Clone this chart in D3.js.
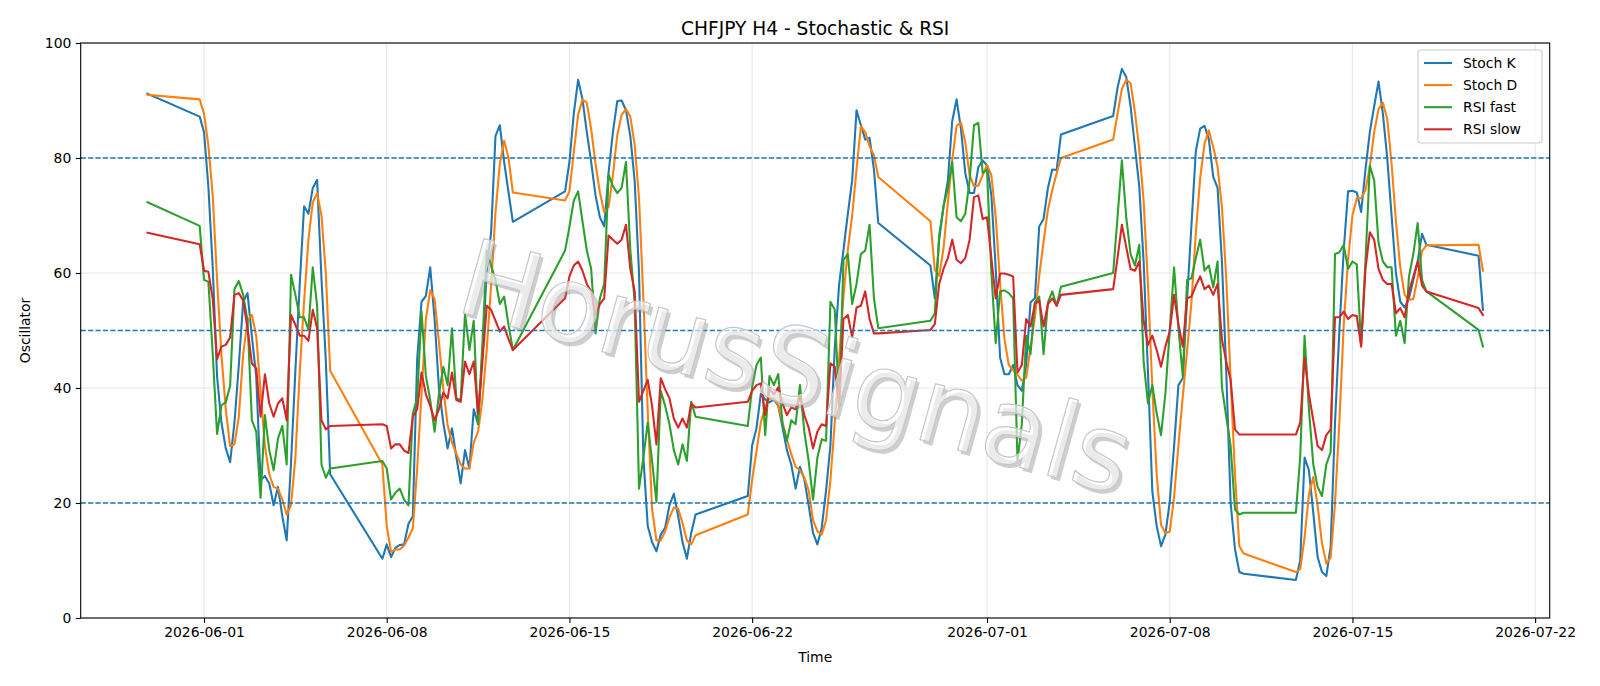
<!DOCTYPE html>
<html>
<head>
<meta charset="utf-8">
<script src="https://cdn.jsdelivr.net/npm/d3@7/dist/d3.min.js"></script>
<style>
  body { margin: 0; background: #fff; }
  text { font-family: "DejaVu Sans", sans-serif; fill: #000; }
</style>
</head>
<body>
<div id="chart"></div>
<script>
// H4 bars: [first bar open time, number of bars]
const sessions = [
  ["2026-05-29T20:00:00Z", 1],
  ["2026-05-31T20:00:00Z", 31],
  ["2026-06-07T20:00:00Z", 31],
  ["2026-06-14T20:00:00Z", 31],
  ["2026-06-21T20:00:00Z", 31],
  ["2026-06-28T20:00:00Z", 31],
  ["2026-07-05T20:00:00Z", 31],
  ["2026-07-12T20:00:00Z", 31],
  ["2026-07-19T20:00:00Z", 2],
];

const stochK = [
  91.2,
  87.2, 84.5, 75, 61, 42, 34, 29.5, 27.1, 34, 44, 55, 56.5, 49, 42, 24, 24.7, 23.4, 19.6, 22.8, 17.7, 13.5, 27, 43, 58, 71.6, 70.3, 74.8, 76.2, 59, 44.8, 25,
  10.3, 12.8, 10.6, 12.2, 12.7, 12.8, 16.4, 17.7, 45, 55, 56, 61, 52, 40, 34, 29.5, 33, 28, 23.4, 29.2, 26, 36.3, 33.7, 45.9, 60.7, 67.1, 83.8, 85.7, 79.3, 74, 68.9,
  74.2, 79.3, 87.7, 93.6, 90.2, 84.5, 79.3, 73.5, 69.7, 68.1, 77.4, 84.5, 89.9, 90, 88.3, 83.8, 76, 60, 28, 16, 13.2, 11.6, 14.5, 15.7, 19.6, 21.6, 17.7, 13.2, 10.3, 14.8, 18,
  21.2, 30, 33, 39, 38, 37.5, 38, 36.9, 33.1, 29.2, 26.7, 22.5, 26.3, 24.1, 19.6, 14.8, 12.8, 15.7, 22.2, 30, 47, 58, 64, 70.3, 76.1, 88.3, 85.7, 83.2, 83.5, 78, 68.7,
  61.3, 55.6, 65.8, 71.6, 76.1, 86.4, 90.2, 85.1, 77.4, 73.9, 73.9, 78.4, 79.6, 78.7, 73.5, 60.7, 45.3, 42.4, 42.4, 44, 40.5, 39.5, 44, 54.9, 55.6, 68.1, 69.4, 74.8, 78, 77.9, 84.1,
  87.3, 92.2, 95.5, 94.1, 89, 82, 75, 62, 42.7, 22, 16, 12.5, 14.5, 20.2, 29.9, 40.5, 41.7, 55.6, 68.4, 81.2, 85.1, 85.6, 83.2, 76.7, 74.8, 62, 42.7, 20, 12, 8, 7.7,
  6.6, 10, 27.9, 25.7, 18.3, 10.6, 8, 7.3, 12.5, 34, 50, 64, 74.2, 74.3, 74, 70.6, 78, 84.5, 89, 93.3, 87.7, 80, 70, 60, 55, 54, 55.6, 58.8, 62, 66.8, 64.9,
  63, 53.6,
];

const stochD = [
  91,
  90.2, 87.7, 82.2, 73.5, 58.8, 45.9, 36.3, 29.9, 30.2, 35, 45.9, 51.7, 52.7, 49.1, 39.5, 29.9, 25, 22.8, 22.5, 20.6, 18, 19.6, 27.9, 42.7, 55, 65.8, 72.3, 73.9, 70, 60, 43,
  26.7, 16, 11.5, 11.9, 11.9, 12.6, 14, 15.6, 26, 39, 52, 57, 55.5, 48, 40, 33.5, 30.5, 28.6, 26.7, 26, 26, 30.5, 32.4, 38, 46.8, 57.9, 70.5, 79, 83, 80, 74,
  72.6, 74.2, 81, 87.5, 90.2, 89.6, 85, 79, 74, 70.6, 71.5, 77, 84, 87.5, 88.5, 87.2, 82.3, 73, 55.6, 36, 19, 13.5, 13.5, 15, 17.5, 19.2, 19, 16.5, 13.5, 12.8, 14.4,
  18, 24, 29, 34, 36.7, 38.2, 38.2, 37, 34, 31, 28.5, 26.3, 25.7, 24.4, 22.2, 17, 15.1, 14.5, 17, 24, 34, 45, 56, 64, 70, 78, 85.5, 84.5, 82, 80.5, 76.7,
  69, 60.5, 59.5, 64.3, 72.3, 79.6, 85.6, 86.2, 82.7, 77, 75.1, 75.2, 77, 78.8, 77, 69.7, 58.3, 48.6, 44, 43.1, 42.3, 41.3, 41.8, 47, 52.3, 59.5, 65.5, 71, 74.4, 77.3, 80,
  83.2, 87.7, 92, 93.6, 93, 88, 81.5, 72.5, 58, 40, 25, 16.2, 14.8, 15, 21, 30, 38.5, 46.5, 55, 67, 76.5, 82.5, 84.8, 81.9, 78.5, 71.5, 59, 41.5, 25, 12.5, 11.2,
  8, 8.5, 14, 21.5, 24.5, 19.5, 13, 9.5, 10.5, 20, 34, 51, 62.3, 70, 73, 73, 74.4, 78.5, 84.5, 88.5, 89.6, 86.8, 79, 69, 61, 56.2, 55.3, 55.5, 59.2, 63.8, 64.8,
  64.9, 60.4,
];

const rsiFast = [
  72.3,
  68.2, 58.8, 58.5, 46, 32, 37, 37.5, 40.4, 57.2, 58.6, 56.2, 51.7, 34.4, 32.4, 20.9, 35.3, 29.2, 25.7, 31.2, 33.4, 26.7, 59.7, 56.2, 52.3, 52.3, 50.1, 61, 54.3, 26.7, 24.4, 26,
  27.3, 26, 20.6, 21.8, 22.5, 20.6, 19.6, 35.6, 38.2, 53.3, 42.1, 37.9, 32.4, 38.9, 43.7, 40.5, 50.4, 38.2, 37.9, 53, 46.6, 51.7, 33.7, 47.8, 63.9, 61.3, 58.8, 54.6, 55.9, 51, 46.6,
  63.9, 68, 72.6, 74.2, 69, 63.9, 60.7, 49.5, 55.6, 58.1, 77.1, 75.1, 73.9, 74.8, 79.3, 64, 55, 22.5, 27.9, 34, 27.3, 20.2, 39.5, 36.9, 33.7, 29.2, 26.7, 30.2, 27.3, 37.6, 35,
  33.4, 40.1, 44, 45.3, 31.8, 42.1, 40.5, 42.4, 33.7, 30.8, 34.4, 33.7, 40.5, 32.4, 27.3, 20.6, 27.9, 31.1, 30.8, 55, 53.6, 36.9, 62.3, 63.3, 54.6, 58.1, 63.3, 63.9, 68.4, 55.6, 50.4,
  51.7, 53, 66.5, 71.6, 74.8, 79.3, 69.7, 69, 70.3, 76.1, 85.7, 86.1, 77.4, 78, 60, 47.8, 56.8, 57, 56.5, 55.6, 27.3, 33.7, 49.1, 45.9, 54.9, 55.9, 45.9, 54.9, 56.8, 54.3, 57.6,
  60, 69.7, 79.6, 69.7, 63.3, 61.3, 64.9, 44.6, 37.3, 40.5, 35.6, 31.8, 39, 50, 61, 50.4, 42.1, 58.8, 59.1, 62.6, 65.8, 60.4, 61.3, 57.5, 62, 40.1, 35, 29.9, 18.9, 18, 18.3,
  18.3, 28, 49.1, 36.3, 26.7, 22.8, 21.2, 26.7, 28.9, 63.3, 63.6, 64.9, 60.7, 62, 61.5, 47.5, 62, 78.7, 76.1, 65.2, 62, 61, 61, 49.1, 51.7, 47.8, 59.4, 63.3, 68.7, 58.8, 56.8,
  50.1, 47.2,
];

const rsiSlow = [
  67,
  65, 60.4, 60.2, 55.5, 45, 47.2, 47.5, 48.8, 56.2, 56.5, 55.2, 50.4, 44.3, 43.4, 35, 42.4, 37.3, 35, 37.3, 38.2, 34.4, 52.7, 51, 49.1, 49.1, 48.2, 53.6, 50.4, 34.4, 32.8, 33.4,
  33.7, 33.4, 29.5, 30.2, 30.2, 29.1, 28.7, 35, 36.3, 42.7, 38.9, 36.9, 34.4, 36.3, 39.2, 38.2, 42.7, 37.9, 37.6, 44.6, 42.4, 44.6, 35.6, 44.6, 54.3, 53.6, 51.7, 49.8, 50.7, 48.5, 46.6,
  55.6, 59.4, 61.3, 62, 60.4, 58.1, 56.8, 52.7, 54.6, 55.6, 66.5, 65.8, 65.1, 65.8, 68.4, 60.7, 56.8, 37.6, 39.5, 41.4, 36.9, 30.2, 41.7, 39.8, 38.2, 34.7, 33.1, 34.7, 33.1, 37.3, 36.6,
  37.6, 39.5, 40.5, 40.8, 35.3, 39.8, 38.9, 40.1, 37.3, 35.3, 36.6, 36.3, 38.5, 35.3, 33.1, 29.5, 32.4, 33.7, 33.4, 44.3, 43.7, 36.9, 52, 52.7, 48.8, 54, 54.3, 56.8, 52, 49.5, 49.5,
  50.1, 51.1, 58.1, 60.7, 62.6, 65.8, 62.3, 61.7, 62.6, 65.8, 73.2, 73.5, 69.4, 69.7, 62.6, 55.6, 59.9, 59.9, 59.7, 59.4, 42.7, 44, 52, 50.7, 54.6, 55.2, 50.7, 54.6, 55.6, 54.3, 56.2,
  57.2, 62.6, 68.4, 64.5, 60.7, 60.4, 62, 51.7, 47.5, 49.1, 46.6, 43.7, 47.2, 49.8, 56.2, 51.1, 47.2, 55.6, 55.9, 57.8, 59.4, 57.2, 57.8, 56.2, 58.1, 48.5, 44.6, 41.4, 32.8, 31.9, 31.9,
  31.9, 34, 45.3, 38.9, 34.4, 29.9, 29.2, 31.8, 32.8, 52.3, 52.3, 53.3, 52, 52.7, 52.5, 47.2, 60.7, 67.1, 65.8, 60.7, 58.8, 58.1, 58.1, 53, 53.9, 52.3, 56.8, 59.4, 62, 57.8, 56.8,
  53.9, 52.7,
];

const seriesNames = ["Stoch K", "Stoch D", "RSI fast", "RSI slow"];
const seriesColors = ["#1f77b4", "#ff7f0e", "#2ca02c", "#d62728"];
const levels = [20, 50, 80];
const xTickDates = ["2026-06-01", "2026-06-08", "2026-06-15", "2026-06-22", "2026-07-01", "2026-07-08", "2026-07-15", "2026-07-22"];
const yTicks = [0, 20, 40, 60, 80, 100];

const width = 1600, height = 686;
const margin = { left: 80.7, right: 50.3, top: 43, bottom: 68 };
const innerW = width - margin.left - margin.right;
const innerH = height - margin.top - margin.bottom;

const hour = 3600 * 1000;
const times = sessions.flatMap(([start, n]) =>
  d3.range(n).map((i) => new Date(Date.parse(start) + i * 4 * hour))
);

const svg = d3.select("#chart").append("svg")
  .attr("width", width)
  .attr("height", height);

svg.append("rect").attr("width", width).attr("height", height).attr("fill", "#fff");

// matplotlib style 5% x margin
const [t0, t1] = d3.extent(times);
const pad = (t1 - t0) * 0.05;
const x = d3.scaleUtc()
  .domain([new Date(+t0 - pad), new Date(+t1 + pad)])
  .range([0, innerW]);
const y = d3.scaleLinear().domain([0, 100]).range([innerH, 0]);

const g = svg.append("g").attr("transform", `translate(${margin.left},${margin.top})`);

// grid
const grid = g.append("g").attr("stroke", "#b0b0b0").attr("stroke-opacity", 0.3).attr("stroke-width", 1.1);
grid.selectAll(".gx").data(xTickDates).join("line")
  .attr("x1", (d) => x(new Date(d + "T00:00:00Z"))).attr("x2", (d) => x(new Date(d + "T00:00:00Z")))
  .attr("y1", 0).attr("y2", innerH);
grid.selectAll(".gy").data(yTicks).join("line")
  .attr("x1", 0).attr("x2", innerW)
  .attr("y1", (d) => y(d)).attr("y2", (d) => y(d));

// series
const allSeries = [stochK, stochD, rsiFast, rsiSlow];
const line = d3.line().x((d, i) => x(times[i])).y((d) => y(d));
const plot = g.append("g");
allSeries.forEach((vals, k) => {
  plot.append("path")
    .datum(vals)
    .attr("d", line)
    .attr("fill", "none")
    .attr("stroke", seriesColors[k])
    .attr("stroke-width", 2.08)
    .attr("stroke-linejoin", "round")
    .attr("stroke-linecap", "square");
});

// levels
g.selectAll(".level").data(levels).join("line")
  .attr("class", "level")
  .attr("x1", 0).attr("x2", innerW)
  .attr("y1", (d) => y(d)).attr("y2", (d) => y(d))
  .attr("stroke", "#1f77b4")
  .attr("stroke-width", 1.4)
  .attr("stroke-dasharray", "5.2,2.2");

// watermark with drop shadow
const wmX = innerW / 2 - 19, wmY = innerH / 2 + 37;
const wmText = "HorusSignals";
g.append("text")
  .attr("transform", `translate(${wmX + 3},${wmY + 3.5}) rotate(15.5)`)
  .attr("text-anchor", "middle").attr("dominant-baseline", "central")
  .attr("font-size", 106)
  .style("fill", "#8c8c8c")
  .attr("opacity", 0.42)
  .text(wmText);
g.append("text")
  .attr("transform", `translate(${wmX},${wmY}) rotate(15.5)`)
  .attr("text-anchor", "middle").attr("dominant-baseline", "central")
  .attr("font-size", 106)
  .style("fill", "#fff")
  .attr("fill-opacity", 0.6)
  .attr("stroke", "#c8c8c8")
  .attr("stroke-width", 1.2)
  .text(wmText);

// axes
const xAxis = d3.axisBottom(x)
  .tickValues(xTickDates.map((d) => new Date(d + "T00:00:00Z")))
  .tickFormat(d3.utcFormat("%Y-%m-%d"))
  .tickSize(4.9).tickPadding(4.5);
const yAxis = d3.axisLeft(y).tickValues(yTicks).tickSize(4.9).tickPadding(4.5);

const ax = g.append("g").attr("transform", `translate(0,${innerH})`).call(xAxis);
const ay = g.append("g").call(yAxis);
[ax, ay].forEach((a) => {
  a.select(".domain").remove();
  a.selectAll(".tick line").attr("stroke", "#000").attr("stroke-width", 1.1);
  a.selectAll(".tick text").attr("font-size", 13.9).attr("font-family", "DejaVu Sans").attr("fill", "#000");
});

// spines
g.append("rect")
  .attr("width", innerW).attr("height", innerH)
  .attr("fill", "none").attr("stroke", "#000").attr("stroke-width", 1.1);

// labels
svg.append("text")
  .attr("x", margin.left + innerW / 2).attr("y", 34.5)
  .attr("text-anchor", "middle").attr("font-size", 18.6)
  .text("CHFJPY H4 - Stochastic & RSI");
svg.append("text")
  .attr("x", margin.left + innerW / 2).attr("y", 662)
  .attr("text-anchor", "middle").attr("font-size", 13.9)
  .text("Time");
svg.append("text")
  .attr("transform", `translate(30,${margin.top + innerH / 2}) rotate(-90)`)
  .attr("text-anchor", "middle").attr("font-size", 13.9)
  .text("Oscillator");

// legend
const lg = svg.append("g").attr("transform", "translate(1418,50)");
lg.append("rect")
  .attr("width", 124).attr("height", 93).attr("rx", 3)
  .attr("fill", "#fff").attr("fill-opacity", 0.8)
  .attr("stroke", "#ccc").attr("stroke-width", 1.1);
seriesNames.forEach((name, k) => {
  const row = lg.append("g").attr("transform", `translate(0,${13 + k * 22.1})`);
  row.append("line")
    .attr("x1", 6).attr("x2", 34)
    .attr("stroke", seriesColors[k]).attr("stroke-width", 2.08);
  row.append("text")
    .attr("x", 45).attr("y", 5)
    .attr("font-size", 13.9)
    .text(name);
});
</script>
</body>
</html>
